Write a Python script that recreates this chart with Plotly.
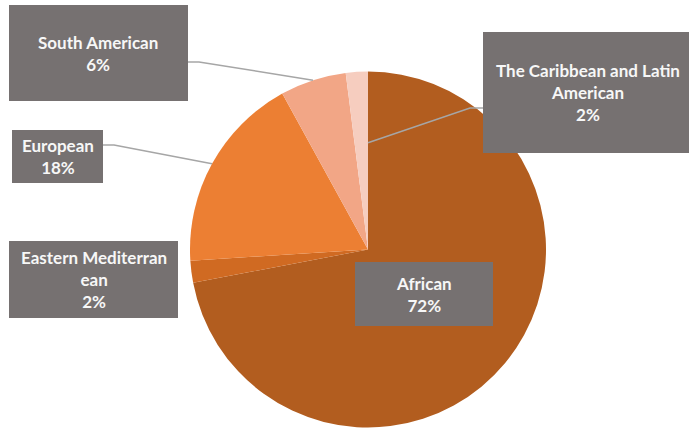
import math
import plotly.graph_objects as go

# Share of cases by region
regions = ["African", "Eastern Mediterranean", "European", "South American",
           "The Caribbean and Latin American"]
shares = [72, 2, 18, 6, 2]
label_text = ["African<br>72%", "Eastern Mediterran<br>ean<br>2%", "European<br>18%",
              "South American<br>6%", "The Caribbean and Latin<br>American<br>2%"]
colors = ["#B25D1F", "#D06A22", "#EC7F33", "#F2A686", "#F6CDBF"]

W, H = 689, 429
CX, CY, R = 368, 249.5, 178  # pie centre and radius in pixels

BOX_FILL = "#767171"
LINE_COLOR = "#A6A6A6"
FONT = dict(family="Lato, 'Open Sans', sans-serif", size=17, color="#F7F7F7")


def px(x):
    return x / W


def py(y):
    return 1 - y / H


def slice_point(idx, frac_pos, radius_frac=1.0):
    """Point on the pie for slice idx at a fraction through the slice (clockwise from 12 o'clock)."""
    total = sum(shares)
    start = sum(shares[:idx]) / total * 360
    ang = math.radians(start + frac_pos * shares[idx] / total * 360)
    return CX + R * radius_frac * math.sin(ang), CY - R * radius_frac * math.cos(ang)


fig = go.Figure(go.Pie(
    labels=regions,
    values=shares,
    sort=False,
    direction="clockwise",
    rotation=0,
    marker=dict(colors=colors, line=dict(width=0)),
    textinfo="none",
    hoverinfo="label+percent",
    domain=dict(x=[px(CX - R), px(CX + R)], y=[py(CY + R), py(CY - R)]),
    showlegend=False,
))

# Callout boxes: (x0, y0, x1, y1) in pixels, per slice
boxes = {
    0: (355, 262, 493, 326),
    1: (9, 241, 178, 318),
    2: (12, 130, 103, 183),
    3: (9, 5, 188, 101),
    4: (483, 32, 692, 153),
}

shapes = []
annotations = []
for i, (x0, y0, x1, y1) in boxes.items():
    shapes.append(dict(type="rect", xref="paper", yref="paper",
                       x0=px(x0), x1=px(x1), y0=py(y1), y1=py(y0),
                       fillcolor=BOX_FILL, line=dict(width=0), layer="above"))
    annotations.append(dict(xref="paper", yref="paper",
                            x=px((x0 + x1) / 2), y=py((y0 + y1) / 2),
                            text="<b>" + label_text[i] + "</b>", showarrow=False,
                            font=FONT, align="center", xanchor="center", yanchor="middle"))

# Leader lines: box edge -> short horizontal -> slice
leaders = [
    ((188, 62), (199, 62), slice_point(3, 0.5)),
    ((103, 145), (114, 145), slice_point(2, 0.5)),
    ((483, 108), (470, 108), slice_point(4, 1.0, 0.6)),
]
for (a, b, c) in leaders:
    path = f"M {px(a[0])},{py(a[1])} L {px(b[0])},{py(b[1])} L {px(c[0])},{py(c[1])}"
    shapes.append(dict(type="path", xref="paper", yref="paper", path=path,
                       line=dict(color=LINE_COLOR, width=1.5), layer="above"))

fig.update_layout(
    width=W, height=H,
    margin=dict(l=0, r=0, t=0, b=0),
    paper_bgcolor="white",
    plot_bgcolor="white",
    shapes=shapes,
    annotations=annotations,
)

fig.write_html("out.html")
